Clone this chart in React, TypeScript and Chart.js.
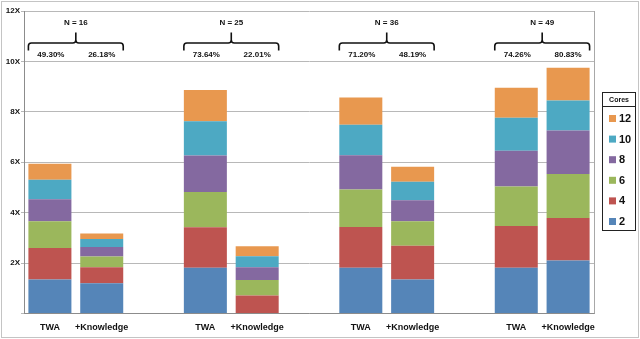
import React, { useEffect, useRef } from "react";
import { Chart, registerables } from "chart.js";

Chart.register(...registerables);

const categories = ["TWA", "+Knowledge", "", "TWA", "+Knowledge", "", "TWA", "+Knowledge", "", "TWA", "+Knowledge"];
const coreLabels = ["2", "4", "6", "8", "10", "12"];
const cores2 = [1.35, 1.2, null, 1.81, 0.0, null, 1.81, 1.35, null, 1.81, 2.1];
const cores4 = [1.25, 0.63, null, 1.61, 0.71, null, 1.62, 1.34, null, 1.66, 1.69];
const cores6 = [1.06, 0.43, null, 1.4, 0.62, null, 1.49, 0.97, null, 1.57, 1.74];
const cores8 = [0.87, 0.38, null, 1.45, 0.5, null, 1.36, 0.83, null, 1.42, 1.73];
const cores10 = [0.78, 0.32, null, 1.36, 0.44, null, 1.21, 0.74, null, 1.31, 1.19];
const cores12 = [0.63, 0.21, null, 1.24, 0.4, null, 1.08, 0.59, null, 1.19, 1.3];
const seriesValues = [cores2, cores4, cores6, cores8, cores10, cores12];
const seriesColors = ["#5585B8", "#BE5450", "#9BB75C", "#8469A0", "#4DA9C3", "#E8984F"];

const groupLabels = ["N = 16", "N = 25", "N = 36", "N = 49"];
const groupTwaIndex = [0, 3, 6, 9];
const pctTWA = ["49.30%", "73.64%", "71.20%", "74.26%"];
const pctKnowledge = ["26.18%", "22.01%", "48.19%", "80.83%"];
const yTicks = [0, 2, 4, 6, 8, 10, 12];

const FONT = "'Liberation Sans', Arial, sans-serif";

const overlayPlugin = {
  id: "overlay",
  afterDraw(chart: any) {
    const ctx = chart.ctx;
    const area = chart.chartArea;
    const y = chart.scales.y;
    ctx.save();
    // outer border
    ctx.strokeStyle = "#c4c4c4";
    ctx.lineWidth = 1;
    ctx.strokeRect(1.5, 1.5, chart.width - 3, chart.height - 3);
    // plot right border
    ctx.strokeStyle = "#a8a8a8";
    ctx.beginPath();
    ctx.moveTo(Math.round(area.right) + 0.5, area.top);
    ctx.lineTo(Math.round(area.right) + 0.5, area.bottom);
    ctx.stroke();

    const meta = chart.getDatasetMeta(0);
    const yN = y.getPixelForValue(11.52);
    const yTip = y.getPixelForValue(11.15);
    const yLine = y.getPixelForValue(10.73);
    const yEnd = y.getPixelForValue(10.43);
    const yPct = y.getPixelForValue(10.26);
    groupTwaIndex.forEach((gi, k) => {
      const b1 = meta.data[gi];
      const b2 = meta.data[gi + 1];
      const x1 = b1.x - b1.width / 2;
      const x2 = b2.x + b2.width / 2;
      const xm = (x1 + x2) / 2;
      ctx.strokeStyle = "#111";
      ctx.lineWidth = 1.6;
      ctx.beginPath();
      ctx.moveTo(x1, yEnd);
      ctx.lineTo(x1, yLine + 3);
      ctx.quadraticCurveTo(x1, yLine, x1 + 3, yLine);
      ctx.lineTo(xm - 3, yLine);
      ctx.quadraticCurveTo(xm, yLine, xm, yLine - 3);
      ctx.lineTo(xm, yTip);
      ctx.moveTo(xm, yLine - 3);
      ctx.quadraticCurveTo(xm, yLine, xm + 3, yLine);
      ctx.lineTo(x2 - 3, yLine);
      ctx.quadraticCurveTo(x2, yLine, x2, yLine + 3);
      ctx.lineTo(x2, yEnd);
      ctx.stroke();

      ctx.fillStyle = "#111";
      ctx.font = "bold 8px " + FONT;
      ctx.textAlign = "center";
      ctx.textBaseline = "middle";
      ctx.fillText(groupLabels[k], xm, yN);
      ctx.fillText(pctTWA[k], b1.x + 1, yPct);
      ctx.fillText(pctKnowledge[k], b2.x, yPct);
    });

    // legend
    const lx = 602.5, ly = 92.5, lw = 33, lh = 138;
    ctx.fillStyle = "#fff";
    ctx.fillRect(lx, ly, lw, lh);
    ctx.strokeStyle = "#222";
    ctx.lineWidth = 1;
    ctx.strokeRect(lx, ly, lw, lh);
    ctx.beginPath();
    ctx.moveTo(lx, 106.5);
    ctx.lineTo(lx + lw, 106.5);
    ctx.stroke();
    ctx.fillStyle = "#111";
    ctx.font = "bold 7px " + FONT;
    ctx.textAlign = "center";
    ctx.textBaseline = "middle";
    ctx.fillText("Cores", lx + lw / 2, 100);
    ctx.font = "bold 11px " + FONT;
    ctx.textAlign = "left";
    for (let i = 0; i < coreLabels.length; i++) {
      const si = coreLabels.length - 1 - i;
      const cy = 118.5 + i * 20.6;
      ctx.fillStyle = seriesColors[si];
      ctx.fillRect(609, cy - 3.5, 7, 7);
      ctx.fillStyle = "#111";
      ctx.fillText(coreLabels[si], 619, cy + 0.5);
    }
    ctx.restore();
  },
};

export default function App() {
  const ref = useRef<HTMLCanvasElement | null>(null);
  useEffect(() => {
    document.body.style.margin = "0";
    const canvas = ref.current;
    if (!canvas) return;
    const chart = new Chart(canvas, {
      type: "bar",
      data: {
        labels: categories,
        datasets: seriesValues.map((vals, i) => ({
          label: coreLabels[i],
          data: vals,
          backgroundColor: seriesColors[i],
          borderWidth: 0,
          categoryPercentage: 1,
          barPercentage: 0.83,
        })),
      },
      options: {
        responsive: false,
        animation: false,
        devicePixelRatio: 1,
        layout: { padding: { top: 11, right: 46, left: 0, bottom: 0 } },
        plugins: { legend: { display: false }, tooltip: { enabled: false } },
        scales: {
          x: {
            stacked: true,
            grid: { display: false },
            border: { display: true, color: "#8c8c8c" },
            ticks: {
              color: "#111",
              font: { family: FONT, size: 9, weight: "bold" },
              padding: 1,
              maxRotation: 0,
              autoSkip: false,
            },
            afterFit: (s: any) => {
              s.height = 25.5;
            },
          },
          y: {
            stacked: true,
            min: 0,
            max: 12,
            afterBuildTicks: (s: any) => {
              s.ticks = yTicks.map((v) => ({ value: v }));
            },
            grid: { color: "#b8b8b8", tickLength: 3, drawTicks: true },
            border: { display: true, color: "#8c8c8c" },
            ticks: {
              color: "#111",
              font: { family: FONT, size: 8, weight: "bold" },
              padding: 1,
              callback: (v: any) => (v === 0 ? "" : v + "X"),
            },
            afterFit: (s: any) => {
              s.width = 24;
            },
          },
        },
      },
      plugins: [overlayPlugin],
    });
    return () => chart.destroy();
  }, []);
  return (
    <div style={{ width: 640, height: 339, background: "#fff" }}>
      <canvas ref={ref} width={640} height={339} style={{ display: "block" }} />
    </div>
  );
}
